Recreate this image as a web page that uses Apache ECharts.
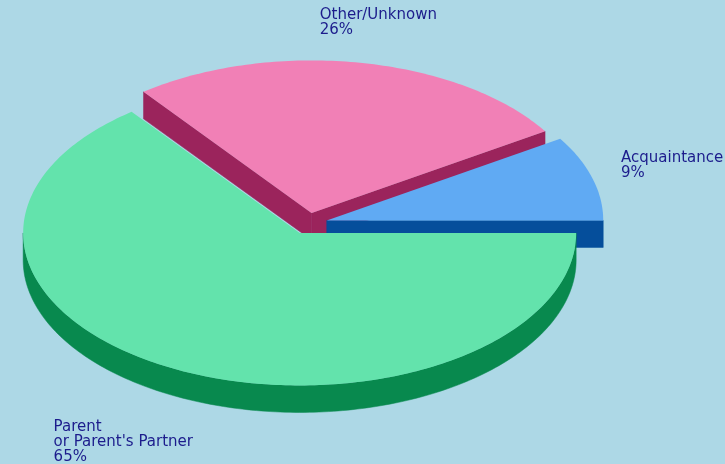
<!DOCTYPE html>
<html>
<head>
<meta charset="utf-8">
<script src="https://cdn.jsdelivr.net/npm/echarts@6/dist/echarts.min.js"></script>
<style>
html,body{margin:0;padding:0;background:#add8e6;}
#main{width:725px;height:464px;}
</style>
</head>
<body>
<div id="main"></div>
<script>
// data (percent of cases), counter-clockwise from 3 o'clock
var categories = ['Acquaintance', 'Other/Unknown', "Parent\nor Parent's Partner"];
var values = [9.0, 26.4, 64.6];

// styles
var topColors = ['#60aaf3', '#f180b6', '#63e3ac'];
var sideColors = ['#054e9b', '#9b245c', '#08894e'];
var labelFont = '15px "DejaVu Sans"';

// layout of the 3d pie
var cx = 308.2, cy = 223.4, rx = 276.5, ry = 152.5, depth = 27, explode = 19.3;

var total = values.reduce(function (s, v) { return s + v; }, 0);
var startAngles = [], endAngles = [];
var acc = 0;
values.forEach(function (v) {
    startAngles.push(acc / total * Math.PI * 2);
    acc += v;
    endAngles.push(acc / total * Math.PI * 2);
});

var measureCtx = document.createElement('canvas').getContext('2d');
measureCtx.font = labelFont;

function arcPts(c, from, to, off) {
    var pts = [];
    var n = Math.max(2, Math.ceil((to - from) / (Math.PI / 180)));
    for (var k = 0; k <= n; k++) {
        var a = from + (to - from) * k / n;
        pts.push([c[0] + rx * Math.cos(a), c[1] - ry * Math.sin(a) + off]);
    }
    return pts;
}

function renderSlice(params, api) {
    var i = params.dataIndex;
    var v = api.value(0);
    var a0 = startAngles[i], a1 = endAngles[i];
    var mid = (a0 + a1) / 2;
    var c = [cx + explode * Math.cos(mid), cy - explode * Math.sin(mid) * ry / rx];
    var sideZ = Math.round(50 - 40 * Math.sin(mid));
    var children = [];

    // radial side walls that face the viewer
    var edges = [[a0, Math.cos(a0) > 1e-6], [a1, Math.cos(a1) < -1e-6]];
    edges.forEach(function (e) {
        if (!e[1]) return;
        var p = [c[0] + rx * Math.cos(e[0]), c[1] - ry * Math.sin(e[0])];
        children.push({
            type: 'polygon', z2: sideZ,
            shape: {points: [c, p, [p[0], p[1] + depth], [c[0], c[1] + depth]]},
            style: {fill: sideColors[i], stroke: sideColors[i], lineWidth: 0.5}
        });
    });

    // outer rim (front half only)
    var lo = Math.max(a0, Math.PI), hi = Math.min(a1, Math.PI * 2);
    if (hi > lo) {
        var rim = arcPts(c, lo, hi, 0).concat(arcPts(c, lo, hi, depth).reverse());
        children.push({
            type: 'polygon', z2: sideZ,
            shape: {points: rim},
            style: {fill: sideColors[i], stroke: sideColors[i], lineWidth: 0.5}
        });
    }

    // top face
    children.push({
        type: 'polygon', z2: 200,
        shape: {points: [c].concat(arcPts(c, a0, a1, 0))},
        style: {fill: topColors[i]}
    });

    // label
    var text = categories[i] + '\n' + Math.round(v / total * 100) + '%';
    var lines = text.split('\n');
    var w = 0;
    lines.forEach(function (l) { w = Math.max(w, measureCtx.measureText(l).width); });
    var h = lines.length * 15;
    var a = mid, q = Math.PI / 4, dx = 0, dy = 0;
    if (a >= 7 * q || a <= q) dx = 0;
    if (a >= q && a <= 3 * q) dx = (a - q) * 2 / Math.PI;
    if (a >= 3 * q && a <= 5 * q) dx = 1;
    if (a >= 5 * q && a <= 7 * q) dx = 1 - (a - 5 * q) * 2 / Math.PI;
    if (a >= 7 * q) dy = (a - 7 * q) * 2 / Math.PI;
    if (a <= q) dy = 0.5 + a * 2 / Math.PI;
    if (a >= q && a <= 3 * q) dy = 1;
    if (a >= 3 * q && a <= 5 * q) dy = 1 - (a - 3 * q) * 2 / Math.PI;
    if (a >= 5 * q && a <= 7 * q) dy = 0;
    var xp = c[0] + (rx + 30) * Math.cos(a);
    var yp = c[1] - (ry + 26) * Math.sin(a) + (Math.sin(a) < 0 ? depth : 0);
    children.push({
        type: 'text', z2: 300,
        style: {
            text: text, x: xp - dx * w, y: yp - dy * h,
            font: labelFont, fill: '#1c1c8c', lineHeight: 15,
            align: 'left', verticalAlign: 'top'
        }
    });

    return {type: 'group', children: children};
}

var chart = echarts.init(document.getElementById('main'));
chart.setOption({
    backgroundColor: '#add8e6',
    animation: false,
    series: [{
        type: 'custom',
        coordinateSystem: 'none',
        silent: true,
        renderItem: renderSlice,
        data: values
    }]
});
</script>
</body>
</html>
